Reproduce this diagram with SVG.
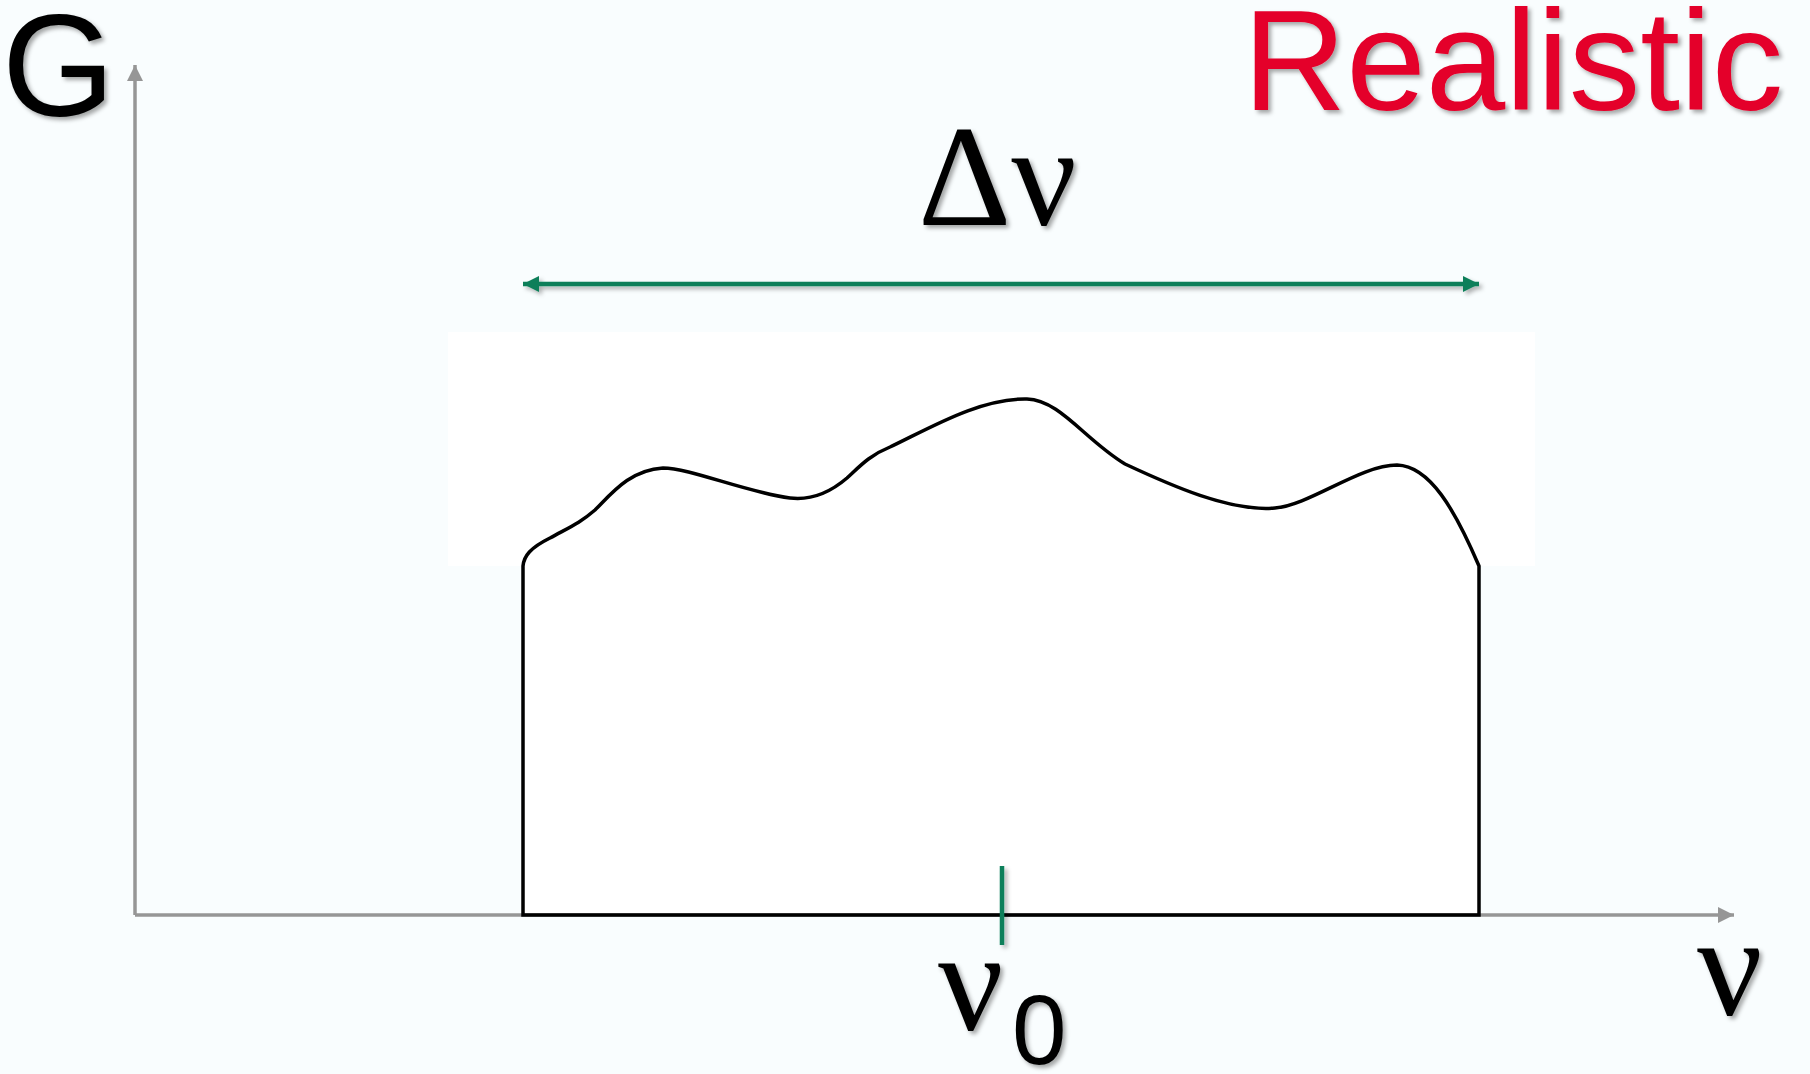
<svg xmlns="http://www.w3.org/2000/svg" width="1810" height="1074" viewBox="0 0 1810 1074">
  <defs>
    <filter id="sh" x="-20%" y="-20%" width="140%" height="160%">
      <feDropShadow dx="3" dy="3" stdDeviation="2" flood-color="#000" flood-opacity="0.35"/>
    </filter>
    <filter id="shu" filterUnits="userSpaceOnUse" x="0" y="0" width="1810" height="1074">
      <feDropShadow dx="3" dy="3" stdDeviation="2" flood-color="#000" flood-opacity="0.3"/>
    </filter>
    <marker id="ga" viewBox="0 0 16 16" refX="16" refY="8" markerWidth="16" markerHeight="16" markerUnits="userSpaceOnUse" orient="auto">
      <path d="M0,0 L16,8 L0,16 Z" fill="#969696"/>
    </marker>
    <marker id="gr" viewBox="0 0 16 16" refX="16" refY="8" markerWidth="16" markerHeight="16" markerUnits="userSpaceOnUse" orient="auto-start-reverse">
      <path d="M0,0 L16,8 L0,16 Z" fill="#0a7f5a"/>
    </marker>
  </defs>
  <style>
    .axis { stroke:#969696; stroke-width:3.5; fill:none; }
    .line { stroke:#000; stroke-width:3.5; fill:none; }
    .green { stroke:#0a7f5a; stroke-width:4.5; fill:none; }
    .sans { font-family:"Liberation Sans", Arial, sans-serif; }
    .serif { font-family:"Liberation Serif", "Times New Roman", serif; }
  </style>
  <rect width="1810" height="1074" fill="#f9fdfe"/>
  <rect x="448" y="332" width="1087" height="234" fill="#ffffff"/>
  <rect x="523" y="566" width="956" height="349" fill="#ffffff"/>

  <g id="connectors">
    <line class="axis" x1="135" y1="915" x2="135" y2="65" marker-end="url(#ga)"/>
    <line class="axis" x1="135" y1="915" x2="1734" y2="915" marker-end="url(#ga)"/>
    <line class="green" x1="523" y1="284" x2="1479" y2="284" marker-start="url(#gr)" marker-end="url(#gr)" filter="url(#shu)"/>
  </g>

  <g id="spectrum">
    <path class="line" d="M523,915 L523,566 C524,556 530,548 550,538 C570,527 580,523 595,510 C612,493 630,470 663,468 C690,468 745,492 790,498 C815,501 833,490 847,478 C860,466 870,455 890,447 C930,428 980,398 1027,399 C1060,400 1085,440 1125,464 C1170,485 1230,512 1275,508 C1310,505 1360,465 1397,465 C1430,466 1455,510 1479,566 L1479,915 Z"/>
    <line class="green" x1="1002" y1="866" x2="1002" y2="945" filter="url(#shu)"/>
  </g>

  <g id="labels">
    <text class="sans" x="2" y="116" font-size="145" fill="#000" filter="url(#sh)">G</text>
    <text class="sans" x="1243" y="110" font-size="143" fill="#e4002b" filter="url(#sh)">Realistic</text>
    <text class="serif" x="918" y="225" font-size="145" fill="#000" filter="url(#sh)">Δν</text>
    <text class="serif" x="1697" y="1015" font-size="145" fill="#000" filter="url(#sh)">ν</text>
    <text class="serif" x="938" y="1030" font-size="145" fill="#000" filter="url(#sh)">ν</text>
    <text class="sans" x="1012" y="1064" font-size="98" fill="#000" filter="url(#sh)">0</text>
  </g>
</svg>
